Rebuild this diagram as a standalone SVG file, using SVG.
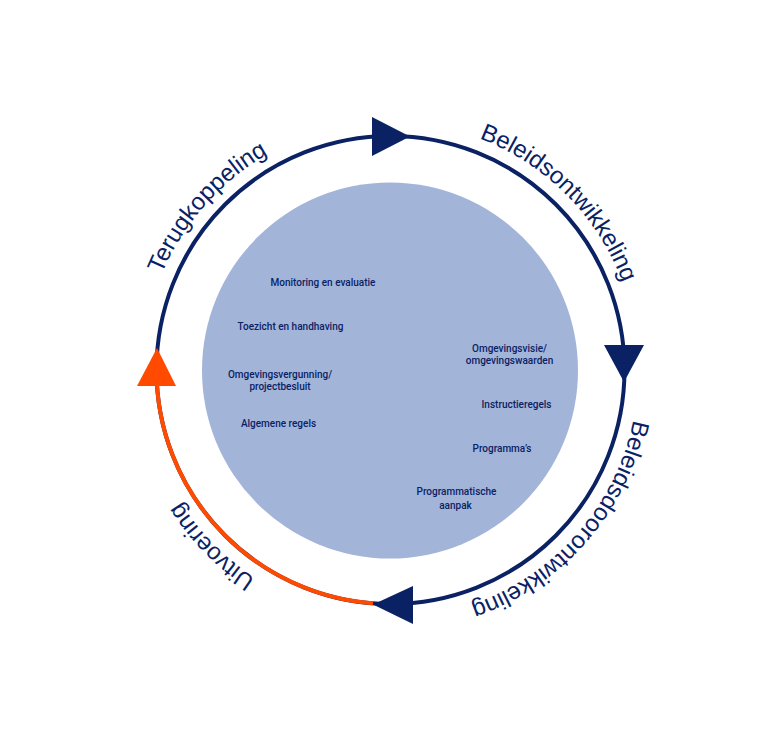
<svg xmlns="http://www.w3.org/2000/svg" xmlns:xlink="http://www.w3.org/1999/xlink" width="784" height="732" viewBox="0 0 784 732">
<style>
.ring{fill:none;stroke:#0a2263;stroke-width:4}
.ring-o{fill:none;stroke:#ff4a00;stroke-width:4}
.arrow{fill:#0a2263}
.arrow-o{fill:#ff4a00}
.outer{font-family:"Liberation Sans",Arial,sans-serif;font-size:24px;fill:#0a2263}
.inner{font-family:Roboto,"Liberation Sans",sans-serif;font-weight:500;font-size:10px;fill:#0a2263;text-anchor:middle}
</style>
<defs>
<path id="cw" d="M 142.5 370 A 248 248 0 1 1 638.5 370 A 248 248 0 1 1 142.5 370"/>
</defs>
<rect width="784" height="732" fill="#ffffff"/>
<g id="core">
<circle cx="390" cy="370.5" r="188" fill="#a3b4d9"/>
</g>
<g id="connectors">
<circle class="ring" cx="390.5" cy="370" r="234"/>
<path class="ring-o" d="M 373 603.3 A 234 234 0 0 1 156.5 370"/>
<polygon class="arrow" points="372,117 372,156 410,136.5"/>
<polygon class="arrow" points="604,345 644,345 624,382"/>
<polygon class="arrow" points="413,586 413,624 373,604.5"/>
<polygon class="arrow-o" points="157,348 137,386 176,386"/>
</g>
<g id="label-terugkoppeling"><text class="outer" text-anchor="middle"><textPath xlink:href="#cw" href="#cw" startOffset="180">Terugkoppeling</textPath></text></g>
<g id="label-beleidsontwikkeling"><text class="outer" text-anchor="middle"><textPath xlink:href="#cw" href="#cw" startOffset="585">Beleidsontwikkeling</textPath></text></g>
<g id="label-beleidsdoorontwikkeling"><text class="outer" text-anchor="middle"><textPath xlink:href="#cw" href="#cw" startOffset="958">Beleidsdoorontwikkeling</textPath></text></g>
<g id="label-uitvoering"><text class="outer" text-anchor="middle"><textPath xlink:href="#cw" href="#cw" startOffset="1365">Uitvoering</textPath></text></g>
<g id="items">
<text class="inner" x="323" y="285.5">Monitoring en evaluatie</text>
<text class="inner" x="290.5" y="329.5">Toezicht en handhaving</text>
<text class="inner" x="280" y="377.5">Omgevingsvergunning/</text>
<text class="inner" x="280" y="389.5">projectbesluit</text>
<text class="inner" x="278.5" y="426.5">Algemene regels</text>
<text class="inner" x="509.5" y="351.5">Omgevingsvisie/</text>
<text class="inner" x="509.5" y="363.5">omgevingswaarden</text>
<text class="inner" x="516.5" y="407.5">Instructieregels</text>
<text class="inner" x="502" y="451.5">Programma’s</text>
<text class="inner" x="456.5" y="494.5">Programmatische</text>
<text class="inner" x="455.5" y="508.5">aanpak</text>
</g>
</svg>
